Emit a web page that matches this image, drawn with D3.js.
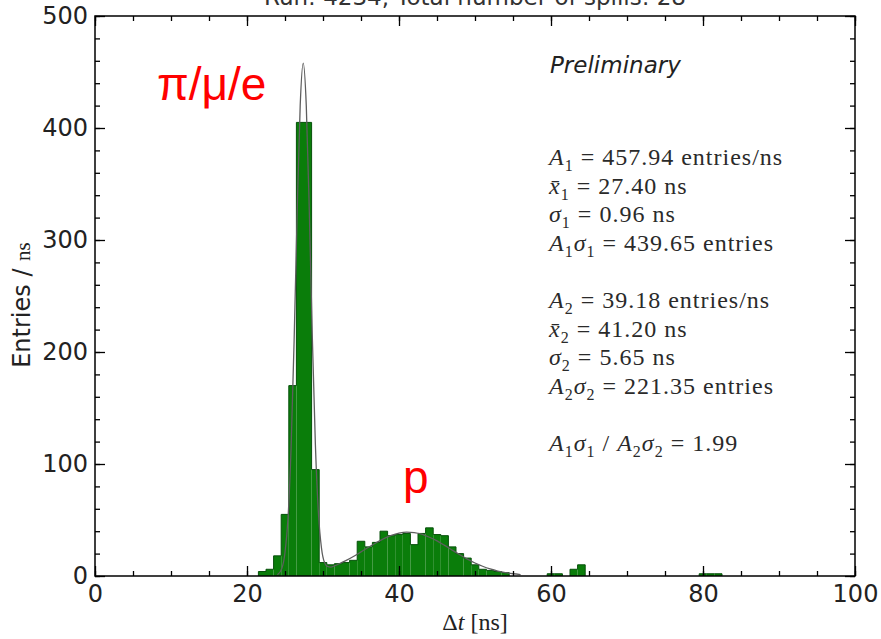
<!DOCTYPE html>
<html>
<head>
<meta charset="utf-8">
<script src="https://cdn.jsdelivr.net/npm/d3@7"></script>
<style>
  html, body { margin: 0; padding: 0; background: #fff; }
  svg { display: block; }
</style>
</head>
<body>
<div id="chart"></div>
<script>
var title = "Run: 4234, Total number of spills: 28";

// histogram, 1 ns bins, given by bin centre
var binCenters = [22, 23, 24, 25, 26, 27, 28, 29, 30, 31, 32, 33, 34, 35, 36, 37, 38, 39, 40, 41,
                  42, 43, 44, 45, 46, 47, 48, 49, 50, 51, 52, 53, 54, 60, 61, 63, 64, 80, 81, 82];
var binCounts  = [4, 6, 18, 55, 170, 405, 405, 95, 12, 10, 11, 12, 14, 31, 26, 30, 40, 36, 37, 38,
                  28, 38, 43, 37, 36, 26, 20, 16, 10, 6, 5, 4, 3, 2, 2, 6, 10, 2, 2, 2];
var binWidth = 1;

// fitted curve
var fitX = [24, 24.6, 25, 25.4, 25.8, 26.2, 26.6, 27, 27.4, 27.8, 28.2, 28.6, 29, 29.4, 29.8, 30.2, 30.6, 31, 31.5, 32,
            33, 34, 35, 36, 37, 38, 39, 40, 41, 42, 43, 44, 45, 46, 47, 48, 49, 50, 51, 52, 53, 54, 55, 56];
var fitY = [1, 7, 21, 52, 114, 210, 324, 420, 458, 420, 325, 212, 117, 56, 25, 12, 8.5, 8, 9, 10.5,
            13.7, 17.4, 21.5, 25.7, 29.7, 33.4, 36.3, 38.3, 39.2, 38.8, 37.3, 34.6, 31.3, 27.3, 23.1, 19, 15.1, 11.6, 8.7, 6.3, 4.4, 3, 2, 1.3];

var xTicks = [0, 20, 40, 60, 80, 100];
var yTicks = [0, 100, 200, 300, 400, 500];

var statLines = [
  [["A", "i"], ["1", "s"], [" = 457.94 entries/ns", "r"]],
  [["x\u0304", "i"], ["1", "s"], [" = 27.40 ns", "r"]],
  [["σ", "i"], ["1", "s"], [" = 0.96 ns", "r"]],
  [["A", "i"], ["1", "s"], ["σ", "i"], ["1", "s"], [" = 439.65 entries", "r"]],
  [],
  [["A", "i"], ["2", "s"], [" = 39.18 entries/ns", "r"]],
  [["x\u0304", "i"], ["2", "s"], [" = 41.20 ns", "r"]],
  [["σ", "i"], ["2", "s"], [" = 5.65 ns", "r"]],
  [["A", "i"], ["2", "s"], ["σ", "i"], ["2", "s"], [" = 221.35 entries", "r"]],
  [],
  [["A", "i"], ["1", "s"], ["σ", "i"], ["1", "s"], [" / ", "r"], ["A", "i"], ["2", "s"], ["σ", "i"], ["2", "s"], [" = 1.99", "r"]]
];

var width = 881, height = 639;
var margin = {left: 95, right: 26, top: 16, bottom: 63};
var sans = "'DejaVu Sans', sans-serif";
var serif = "'Liberation Serif', 'DejaVu Serif', serif";

var svg = d3.select("#chart").append("svg")
    .attr("width", width)
    .attr("height", height);

var x = d3.scaleLinear().domain([0, 100]).range([margin.left, width - margin.right]);
var y = d3.scaleLinear().domain([0, 500]).range([height - margin.bottom, margin.top]);

// bars
var bins = binCenters.map(function(c, i) { return {c: c, n: binCounts[i]}; });
svg.append("g").selectAll("rect").data(bins).enter().append("rect")
    .attr("x", function(d) { return x(d.c - binWidth / 2); })
    .attr("y", function(d) { return y(d.n); })
    .attr("width", function(d) { return x(d.c + binWidth / 2) - x(d.c - binWidth / 2); })
    .attr("height", function(d) { return y(0) - y(d.n); })
    .attr("fill", "#0a7d0a");

// step outline round each run of bins
var p = d3.path();
bins.forEach(function(d, i) {
  var prev = bins[i - 1], next = bins[i + 1];
  var l = x(d.c - binWidth / 2), r = x(d.c + binWidth / 2);
  if (!prev || prev.c !== d.c - binWidth) { p.moveTo(l, y(0)); }
  p.lineTo(l, y(d.n));
  p.lineTo(r, y(d.n));
  if (!next || next.c !== d.c + binWidth) { p.lineTo(r, y(0)); }
});
svg.append("path").attr("d", p.toString())
    .attr("fill", "none")
    .attr("stroke", "#06500a")
    .attr("stroke-width", 1);

// fit
var line = d3.line()
    .x(function(d) { return x(d[0]); })
    .y(function(d) { return y(d[1]); })
    .curve(d3.curveMonotoneX);
svg.append("path")
    .attr("d", line(fitX.map(function(v, i) { return [v, fitY[i]]; })))
    .attr("fill", "none")
    .attr("stroke", "#5e5e5e")
    .attr("stroke-width", 1.3);

// axes, ticks pointing in
function styleAxis(g) {
  g.select(".domain").remove();
  g.selectAll("line").attr("stroke", "#000").attr("stroke-width", 1.3);
  g.selectAll("text").attr("font-family", sans).attr("font-size", 24).attr("fill", "#222");
}
var bottom = height - margin.bottom, right = width - margin.right;
svg.append("g").attr("transform", "translate(0," + bottom + ")")
    .call(d3.axisBottom(x).tickValues(d3.range(0, 101, 5)).tickSize(-5).tickFormat(""))
    .call(styleAxis);
svg.append("g").attr("transform", "translate(0," + bottom + ")")
    .call(d3.axisBottom(x).tickValues(xTicks).tickSize(-10).tickPadding(9).tickFormat(d3.format("d")))
    .call(styleAxis);
svg.append("g").attr("transform", "translate(0," + margin.top + ")")
    .call(d3.axisTop(x).tickValues(d3.range(0, 101, 5)).tickSize(-5).tickFormat(""))
    .call(styleAxis);
svg.append("g").attr("transform", "translate(0," + margin.top + ")")
    .call(d3.axisTop(x).tickValues(xTicks).tickSize(-10).tickFormat(""))
    .call(styleAxis);
svg.append("g").attr("transform", "translate(" + margin.left + ",0)")
    .call(d3.axisLeft(y).tickValues(d3.range(0, 501, 20)).tickSize(-5).tickFormat(""))
    .call(styleAxis);
svg.append("g").attr("transform", "translate(" + margin.left + ",0)")
    .call(d3.axisLeft(y).tickValues(yTicks).tickSize(-10).tickPadding(7).tickFormat(d3.format("d")))
    .call(styleAxis);
svg.append("g").attr("transform", "translate(" + right + ",0)")
    .call(d3.axisRight(y).tickValues(d3.range(0, 501, 20)).tickSize(-5).tickFormat(""))
    .call(styleAxis);
svg.append("g").attr("transform", "translate(" + right + ",0)")
    .call(d3.axisRight(y).tickValues(yTicks).tickSize(-10).tickFormat(""))
    .call(styleAxis);

svg.append("rect")
    .attr("x", margin.left).attr("y", margin.top)
    .attr("width", right - margin.left).attr("height", bottom - margin.top)
    .attr("fill", "none").attr("stroke", "#000").attr("stroke-width", 1.5);

// titles (the title sits partly above the page edge, as in the source)
svg.append("text")
    .attr("x", (margin.left + right) / 2).attr("y", 5)
    .attr("text-anchor", "middle")
    .attr("font-family", sans).attr("font-size", 23).attr("fill", "#333")
    .text(title);

var xl = svg.append("text")
    .attr("x", (margin.left + right) / 2).attr("y", 630)
    .attr("text-anchor", "middle")
    .attr("font-family", serif).attr("font-size", 24).attr("fill", "#222");
xl.append("tspan").text("Δ");
xl.append("tspan").attr("font-style", "italic").text("t");
xl.append("tspan").text(" [ns]");

var yl = svg.append("text")
    .attr("transform", "translate(30," + ((margin.top + bottom) / 2 + 9) + ") rotate(-90)")
    .attr("text-anchor", "middle")
    .attr("font-family", sans).attr("font-size", 24).attr("fill", "#222");
yl.append("tspan").text("Entries / ");
yl.append("tspan").attr("font-family", serif).attr("font-size", 21).text("ns");

svg.append("text")
    .attr("x", 550).attr("y", 73)
    .attr("font-family", sans).attr("font-style", "italic")
    .attr("font-size", 23).attr("fill", "#222")
    .text("Preliminary");

// red particle labels
svg.append("text")
    .attr("x", 157).attr("y", 100)
    .attr("font-family", "'Liberation Sans', Arial, sans-serif")
    .attr("font-size", 46).attr("fill", "#ff0000")
    .text("π/μ/e");
svg.append("text")
    .attr("x", 403).attr("y", 493)
    .attr("font-family", "'Liberation Sans', Arial, sans-serif")
    .attr("font-size", 46).attr("fill", "#ff0000")
    .text("p");

// fit results
statLines.forEach(function(segs, i) {
  if (!segs.length) return;
  var t = svg.append("text")
      .attr("x", 549).attr("y", 165 + i * 28.6)
      .attr("font-family", serif).attr("font-size", 24)
      .attr("letter-spacing", 1)
      .attr("fill", "#2a2a2a")
      .style("white-space", "pre");
  var shift = 0;
  segs.forEach(function(s) {
    var ts = t.append("tspan").text(s[0]);
    var target = s[1] === "s" ? 6 : 0;
    if (target !== shift) { ts.attr("dy", target - shift); shift = target; }
    if (s[1] === "s") ts.attr("font-size", 16);
    if (s[1] === "i") ts.attr("font-style", "italic");
  });
});
</script>
</body>
</html>
